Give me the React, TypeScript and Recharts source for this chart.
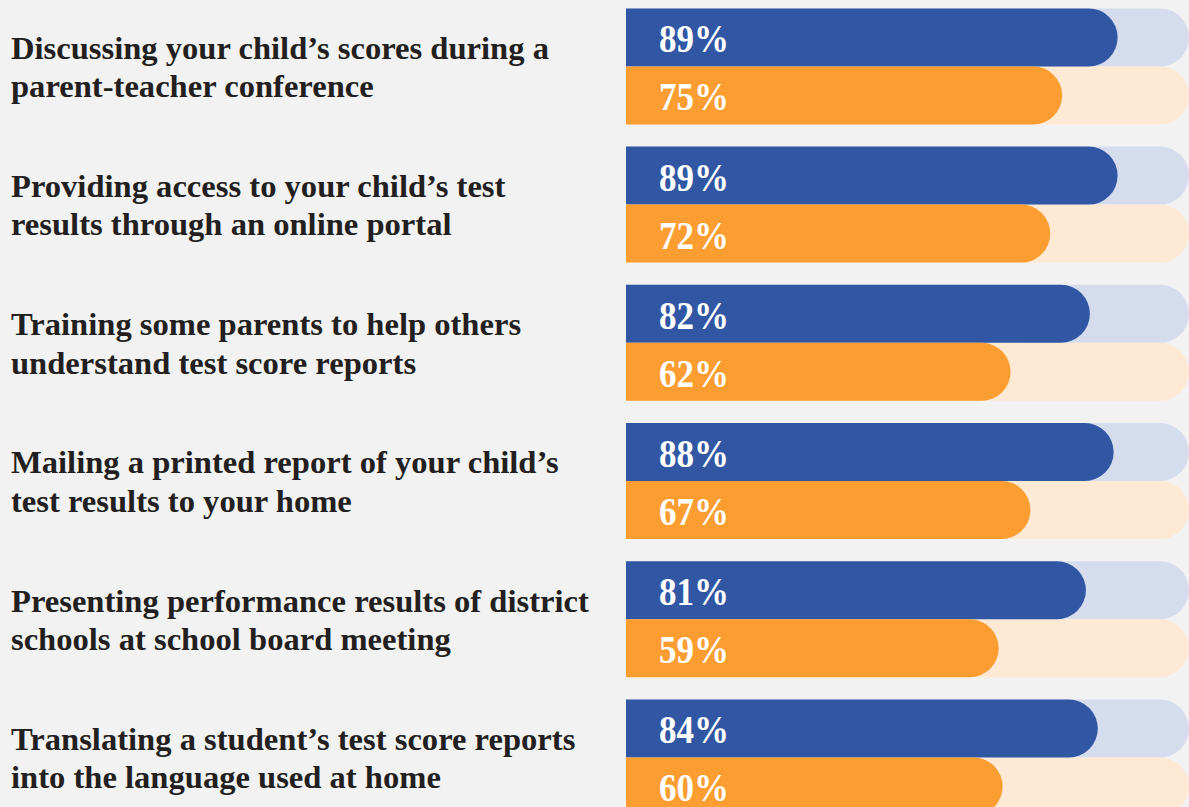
import React from "react";
import { BarChart, Bar, XAxis, YAxis } from "recharts";

// ---- data ----
const categories: string[] = [
  "Discussing your child’s scores during a\nparent-teacher conference",
  "Providing access to your child’s test\nresults through an online portal",
  "Training some parents to help others\nunderstand test score reports",
  "Mailing a printed report of your child’s\ntest results to your home",
  "Presenting performance results of district\nschools at school board meeting",
  "Translating a student’s test score reports\ninto the language used at home",
];
const seriesA: number[] = [89, 89, 82, 88, 81, 84];
const seriesB: number[] = [75, 72, 62, 67, 59, 60];

const data = categories.map((label, i) => ({
  label,
  seriesA: seriesA[i],
  seriesB: seriesB[i],
}));

const BLUE = "#3157a4";
const BLUE_TRACK = "#d5dcee";
const ORANGE = "#fb9d31";
const ORANGE_TRACK = "#fee9d4";
const BG = "#f2f2f2";
const AXIS_W = 626;

const makeShape = (key: "seriesA" | "seriesB", fill: string) => (p: any) => {
  const { x, y, width, height, payload, background } = p;
  const left = background && typeof background.x === "number" ? background.x : AXIS_W;
  const right = x + width;
  const r = height / 2;
  const d = `M${left},${y} H${right - r} A${r},${r} 0 0 1 ${right - r},${y + height} H${left} Z`;
  const v = payload ? payload[key] : p.value;
  return (
    <g>
      <path d={d} fill={fill} />
      <text
        x={left + 33}
        y={y + height / 2 + 15}
        fill="#ffffff"
        fontFamily="'Liberation Serif', 'Times New Roman', serif"
        fontWeight={700}
        fontSize={40}
        textLength={70}
        lengthAdjust="spacingAndGlyphs"
      >
        {`${v}%`}
      </text>
    </g>
  );
};

const CategoryTick = (props: any) => {
  const { y, payload } = props;
  const lines: string[] = String(payload.value).split("\n");
  return (
    <text
      fill="#231f20"
      fontFamily="'Liberation Serif', 'Times New Roman', serif"
      fontWeight={700}
      fontSize={32.6}
      textAnchor="start"
    >
      {lines.map((ln, i) => (
        <tspan key={i} x={11} y={y - 7.4 + i * 38.4}>
          {ln}
        </tspan>
      ))}
    </text>
  );
};

export default function App() {
  return (
    <div
      style={{
        position: "fixed",
        left: 0,
        top: 0,
        width: 1189,
        height: 807,
        overflow: "hidden",
        background: BG,
      }}
    >
      <div style={{ position: "absolute", left: 0, top: -3.4 }}>
        <BarChart
          width={1189}
          height={829.3}
          data={data}
          layout="vertical"
          margin={{ top: 0, right: 0, bottom: 0, left: 0 }}
          barCategoryGap={11.4}
          barGap={0}
        >
          <XAxis type="number" domain={[-35, 107]} hide allowDataOverflow />
          <YAxis
            type="category"
            dataKey="label"
            width={AXIS_W}
            axisLine={false}
            tickLine={false}
            tick={<CategoryTick />}
            interval={0}
          />
          <Bar
            dataKey="seriesA"
            isAnimationActive={false}
            background={{ fill: BLUE_TRACK, radius: [0, 29, 29, 0] } as any}
            shape={makeShape("seriesA", BLUE)}
          />
          <Bar
            dataKey="seriesB"
            isAnimationActive={false}
            background={{ fill: ORANGE_TRACK, radius: [0, 29, 29, 0] } as any}
            shape={makeShape("seriesB", ORANGE)}
          />
        </BarChart>
      </div>
    </div>
  );
}
